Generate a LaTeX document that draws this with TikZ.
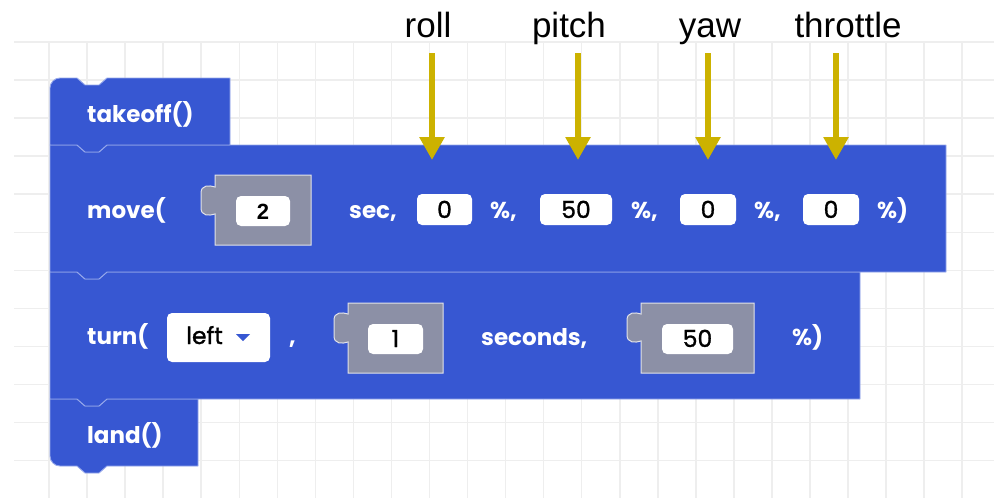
\documentclass[tikz,border=0pt]{standalone}
\usepackage{fontspec}
\setmainfont{Poppins}
\newfontfamily\labfont{Liberation Sans}
\newfontfamily\numfont{Poppins}[FakeBold=1.2]
\usetikzlibrary{arrows.meta}
\definecolor{blockblue}{RGB}{55,87,210}
\definecolor{edgeblue}{RGB}{150,168,235}
\definecolor{sockgray}{RGB}{140,144,166}
\definecolor{gridgray}{RGB}{238,238,238}
\definecolor{arrowyellow}{RGB}{204,178,0}
\tikzset{
  blockshape/.style={fill=blockblue, draw=edgeblue, line width=0.9pt, line join=round},
  sockshape/.style={fill=sockgray, draw=white!75!sockgray, line width=1pt},
  fieldbox/.style={fill=white, rounded corners=5pt},
  wtext/.style={inner sep=0pt, anchor=base west, text=white, font=\bfseries\fontsize{23}{23}\selectfont},
  ntext/.style={inner sep=0pt, anchor=base, text=black, font=\numfont\fontsize{23.5}{23.5}\selectfont},
  labtext/.style={inner sep=0pt, anchor=base, text=black, font=\labfont\fontsize{35}{35}\selectfont},
  yarrow/.style={draw=arrowyellow, line width=6.5pt, -{Triangle[width=24pt,length=23pt]}},
  gridline/.style={draw=gridgray, line width=1.5pt}
}
\begin{document}
\begin{tikzpicture}[x=1pt,y=-1pt]
\useasboundingbox (0,0) rectangle (994,498);
\fill[white] (0,0) rectangle (994,498);
% grid
\foreach \i in {0,...,24} \draw[gridline] ({49+38.05*\i},42) -- ({49+38.05*\i},498);
\foreach \j in {0,...,11} \draw[gridline] (14,{42+38.05*\j}) -- (994,{42+38.05*\j});

% land block
\path[blockshape] (50,399) -- (77,399) -- (85,406) -- (99,406) -- (107,399) -- (198,399) -- (198,466)
  -- (107,466) -- (99,473) -- (85,473) -- (77,466) -- (60,466) .. controls (54.5,466) and (50,461.5) .. (50,456) -- cycle;
% turn block
\path[blockshape] (50,272) -- (77,272) -- (85,279) -- (99,279) -- (107,272) -- (860,272) -- (860,399)
  -- (107,399) -- (99,406) -- (85,406) -- (77,399) -- (50,399) -- cycle;
% move block
\path[blockshape] (50,145) -- (77,145) -- (85,152) -- (99,152) -- (107,145) -- (946,145) -- (946,272)
  -- (107,272) -- (99,279) -- (85,279) -- (77,272) -- (50,272) -- cycle;
% takeoff block
\path[blockshape] (50,145) -- (50,88) .. controls (50,82.5) and (54.5,78) .. (60,78) -- (77,78) -- (85,85) -- (99,85) -- (107,78)
  -- (230,78) -- (230,145) -- (107,145) -- (99,152) -- (85,152) -- (77,145) -- cycle;

% sockets
\path[sockshape] (215,175) -- (311,175) -- (311,245) -- (215,245) -- (215,214)
  .. controls (209,216) and (201,216) .. (201,208) -- (201,193) .. controls (201,185) and (209,185) .. (215,187) -- cycle;
\path[sockshape] (348,303) -- (443,303) -- (443,373) -- (348,373) -- (348,342)
  .. controls (342,344) and (334,344) .. (334,336) -- (334,320) .. controls (334,312) and (342,312) .. (348,314) -- cycle;
\path[sockshape] (641,303) -- (754,303) -- (754,373) -- (641,373) -- (641,341)
  .. controls (635,343) and (627,343) .. (627,335) -- (627,320) .. controls (627,312) and (635,312) .. (641,314) -- cycle;

% fields
\path[fieldbox] (236,196) rectangle (290,226);
\path[fieldbox] (417,194) rectangle (472,225);
\path[fieldbox] (540,194) rectangle (612,225);
\path[fieldbox] (680,194) rectangle (736,225);
\path[fieldbox] (803,194) rectangle (859,225);
\path[fieldbox] (167,313) rectangle (270,362);
\path[fieldbox] (368,324) rectangle (423,354);
\path[fieldbox] (662,324) rectangle (733,354);
\fill[blockblue] (236,334) -- (250,334) -- (243,341) -- cycle;

% block texts
\node[wtext] (takeoff) at (87,122) {takeoff()};
\node[wtext] (move) at (87,218) {move(};
\node[wtext] (sec) at (349,218) {sec,};
\node[wtext] (pc1) at (490,218) {\%,};
\node[wtext] (pc2) at (631,218) {\%,};
\node[wtext] (pc3) at (754,218) {\%,};
\node[wtext] (pc4) at (877,218) {\%)};
\node[wtext] (turn) at (87,344) {turn(};
\node[wtext] (comma) at (289,344) {,};
\node[wtext] (seconds) at (481,345) {seconds,};
\node[wtext] (pc5) at (792,345) {\%)};
\node[wtext] (land) at (87,443) {land()};

% values
\node[ntext, font=\labfont\bfseries\fontsize{22}{22}\selectfont] (v2) at (263,219) {2};
\node[ntext] (v0a) at (444.5,218) {0};
\node[ntext] (v50a) at (576,218) {50};
\node[ntext] (v0b) at (708,218) {0};
\node[ntext] (v0c) at (831,218) {0};
\node[ntext, anchor=base west] (left) at (186,344) {left};
\node[ntext] (v1) at (395.5,347) {1};
\node[ntext] (v50b) at (697.5,347) {50};

% arrow labels and arrows
\node[labtext] (roll) at (428,37) {roll};
\node[labtext] (pitch) at (569,37) {pitch};
\node[labtext] (yaw) at (710,37) {yaw};
\node[labtext] (throttle) at (848,37) {throttle};
\coordinate (rollS) at (432,53);   \coordinate (rollE) at (432,160);
\coordinate (pitchS) at (578,53);  \coordinate (pitchE) at (578,160);
\coordinate (yawS) at (708,53);    \coordinate (yawE) at (708,160);
\coordinate (thrS) at (836,53);    \coordinate (thrE) at (836,160);
\draw[yarrow] (rollS) -- (rollE);
\draw[yarrow] (pitchS) -- (pitchE);
\draw[yarrow] (yawS) -- (yawE);
\draw[yarrow] (thrS) -- (thrE);
\end{tikzpicture}
\end{document}
